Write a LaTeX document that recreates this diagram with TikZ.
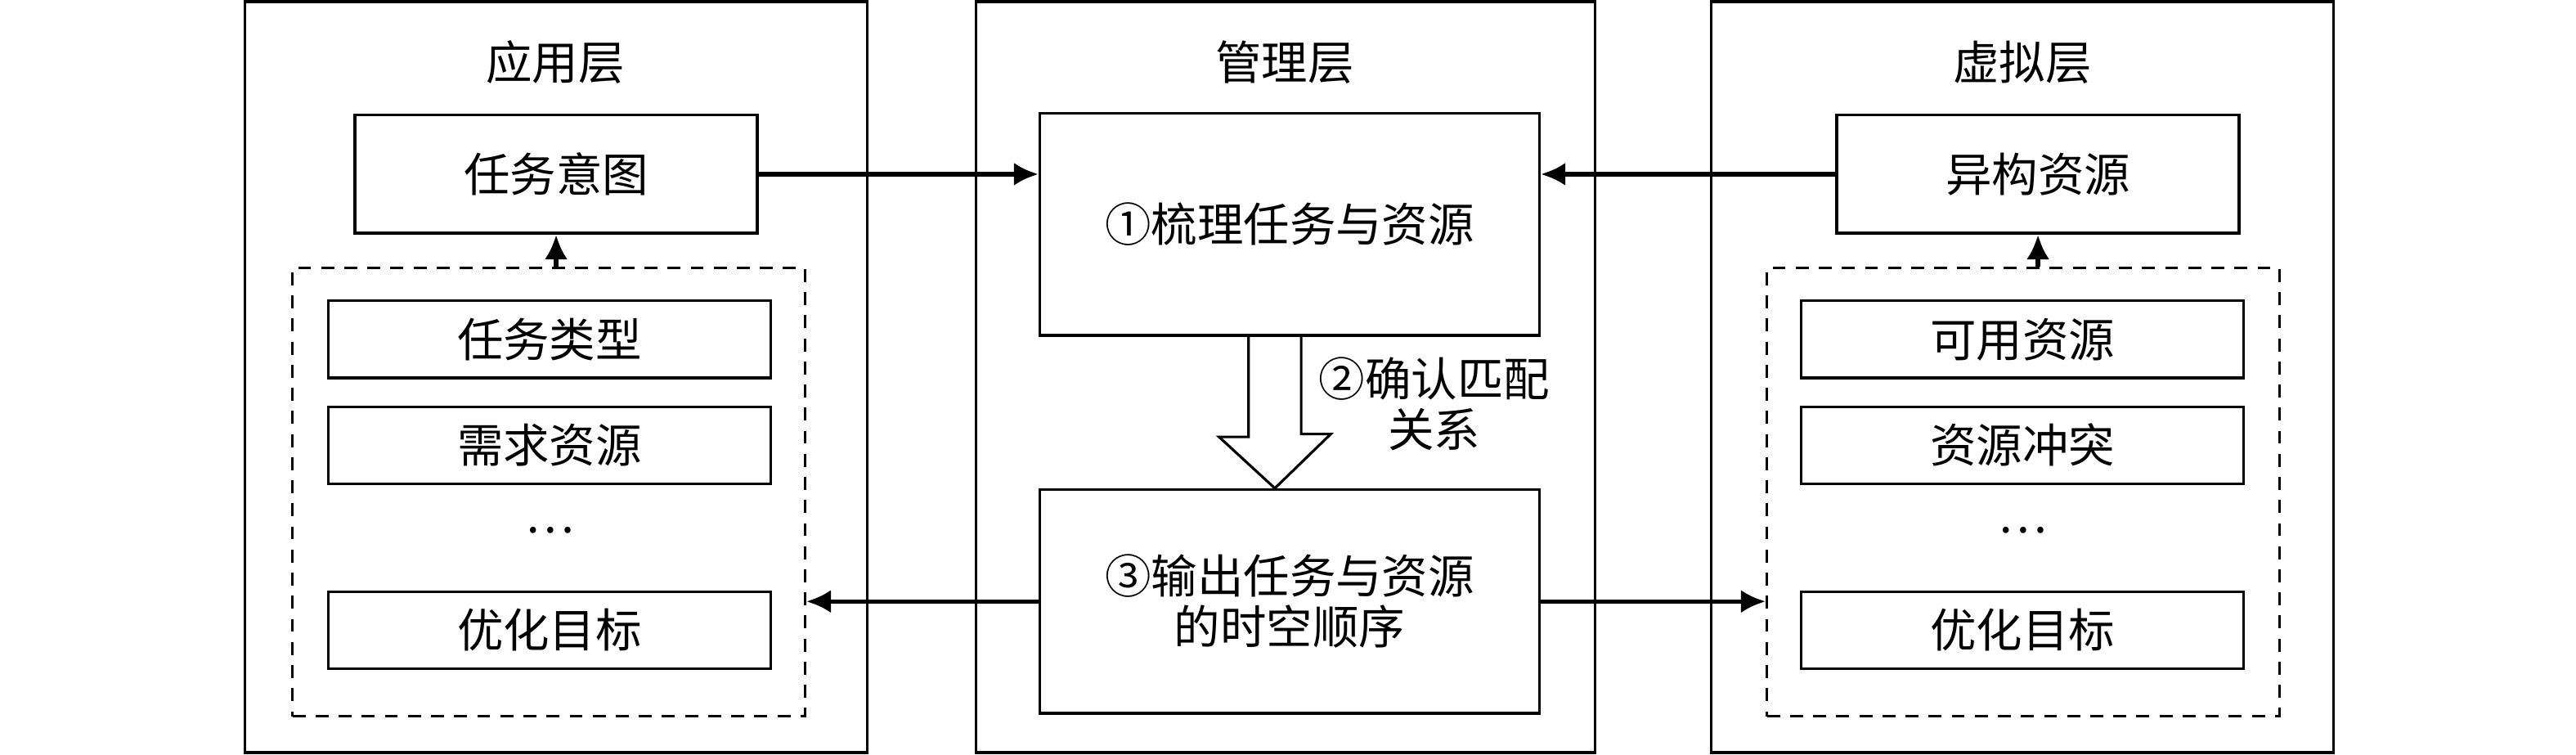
\documentclass[tikz,border=0pt]{standalone}
\usepackage{fontspec}
\newfontfamily\cjk{Noto Sans CJK SC}
\usetikzlibrary{shapes.geometric, arrows, arrows.meta}
\tikzstyle{arrow} = [line width=1.5pt, -{Latex[length=0.3cm, width=0.28cm]}]

\begin{document}
\begin{tikzpicture}[x=0.02cm, y=0.02cm, node distance=1.29cm,
    font=\cjk\fontsize{16}{17.5}\selectfont]
        \tikzstyle{layer} = [rectangle, draw, line width=1pt, minimum width=7.58cm, minimum height=9.14cm]
        \tikzstyle{block} = [rectangle, draw, line width=1pt, minimum width=4.9cm, minimum height=1.44cm]
        \tikzstyle{item} = [rectangle, draw, line width=0.9pt, minimum width=5.38cm, minimum height=0.94cm]
        \tikzstyle{group} = [rectangle, draw, dash pattern=on 4.5pt off 3.5pt, line width=0.9pt, minimum width=6.24cm, minimum height=5.46cm]
        \tikzstyle{stage} = [rectangle, draw, line width=1pt, minimum width=6.08cm, minimum height=2.7cm, align=center]

        \useasboundingbox (0,0) rectangle (1568,-459);

        % three layers
        \node [layer] (app) at (338.5,-229.5) {};
        \node [layer, minimum width=7.54cm] (mgr) at (782.5,-229.5) {};
        \node [layer] (virt) at (1231,-229.5) {};
        \node (appT) at (338,-38) {应用层};
        \node (mgrT) at (782,-38) {管理层};
        \node (virtT) at (1231,-38) {虚拟层};

        % application layer
        \node [block] (intent) at (338.5,-106) {任务意图};
        \node [group] (groupL) at (334,-299.5) {};
        \node [item] (typeL) at (334.5,-206.5) {任务类型};
        \node [item, below of=typeL] (needL) {需求资源};
        \node [below of=needL, yshift=0.26cm] (dotsL) {…};
        \node [item, below of=needL, yshift=-0.96cm] (goalL) {优化目标};

        % virtual layer
        \node [block] (hetero) at (1240.5,-106) {异构资源};
        \node [group] (groupR) at (1231.5,-299.5) {};
        \node [item] (availR) at (1231,-206.5) {可用资源};
        \node [item, below of=availR] (clashR) {资源冲突};
        \node [below of=clashR, yshift=0.26cm] (dotsR) {…};
        \node [item, below of=clashR, yshift=-0.96cm] (goalR) {优化目标};

        % management layer
        \node [stage] (sort) at (785,-136.5) {①梳理任务与资源};
        \node [stage, minimum height=2.72cm] (output) at (785,-366) {③输出任务与资源\\的时空顺序};
        \node [align=center] (match) at (873,-246) {②确认匹配\\关系};

        \coordinate (mid) at (776,0);
        \draw [line width=0.9pt] (sort.south -| mid) ++(-16,0) -- ++(0,-61) -- ++(-18,0)
            -- (output.north -| mid) -- ++(34,33) -- ++(-18,0) -- ++(0,61);

        \draw [arrow] (intent.east) -- (intent.east -| sort.west);
        \draw [arrow] (hetero.west) -- (hetero.west -| sort.east);
        \draw [arrow] (output.west) -- (output.west -| groupL.east);
        \draw [arrow] (output.east) -- (output.east -| groupR.west);
        \draw [arrow] (intent.south |- groupL.north) -- (intent.south);
        \draw [arrow] (hetero.south |- groupR.north) -- (hetero.south);
    \end{tikzpicture}
\end{document}
